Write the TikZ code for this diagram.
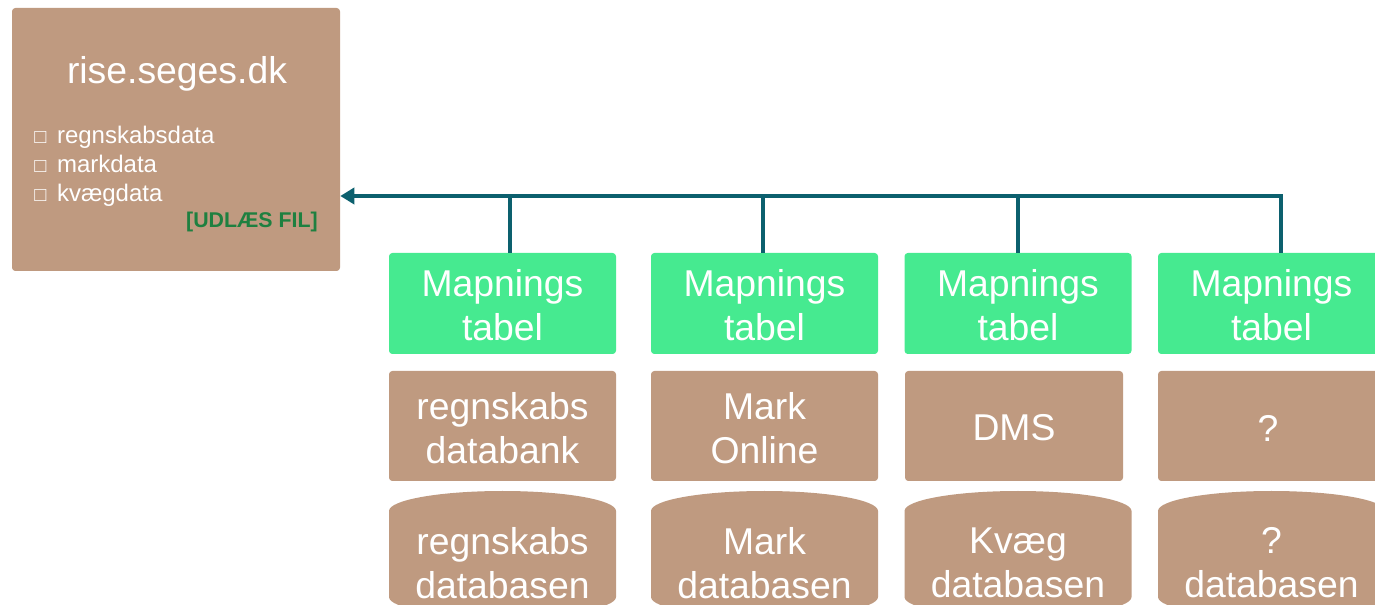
\documentclass[tikz,border=0pt]{standalone}
\usepackage{fontspec}
\setmainfont{Liberation Sans}
\usetikzlibrary{arrows.meta}
\definecolor{tan}{RGB}{191,154,128}
\definecolor{mapgreen}{RGB}{70,234,144}
\definecolor{linkteal}{RGB}{12,96,110}
\definecolor{filegreen}{RGB}{30,128,64}
\newcommand{\tickbox}{{\fontsize{15}{15}\selectfont□}}
\tikzset{
  panel/.style={fill=tan, rounded corners=2.5pt, inner sep=0pt, text=white,
    align=center, font=\fontsize{28}{33}\selectfont},
  mapbox/.style={panel, fill=mapgreen, minimum width=170.25pt, minimum height=75.75pt},
  sysbox/.style={panel, minimum height=82.5pt},
  boxtext/.style={text=white, align=center, inner sep=0pt, font=\fontsize{28}{33}\selectfont},
  dbshape/.style={fill=tan},
  link/.style={draw=linkteal, line width=3pt},
}
\begin{document}
\begin{tikzpicture}[x=0.75pt, y=-0.75pt]
\useasboundingbox (0,0) rectangle (1375,605);
\clip (0,0) rectangle (1375,605);

% portal box
\node[panel, minimum width=246pt, minimum height=197.25pt] (rise) at (176,139.5) {};
\node[boxtext] (title) at (177,73.5) {rise.seges.dk};
\node[text=white, inner sep=0pt, anchor=west, align=left, font=\fontsize{18}{21.75}\selectfont] (items) at (34,166)
  {\tickbox\, regnskabsdata\\\tickbox\, markdata\\\tickbox\, kvægdata};
\node[text=filegreen, inner sep=0pt, anchor=east, font=\fontsize{16}{18}\bfseries\selectfont] (export) at (318,222) {[UDLÆS FIL]};

% mapping tables
\node[mapbox] (m1) at (502.5,303.5) {};
\node[mapbox] (m2) at (764.5,303.5) {};
\node[mapbox] (m3) at (1018,303.5) {};
\node[mapbox] (m4) at (1271.5,303.5) {};
\foreach \i/\cx in {1/502.5,2/764.5,3/1018,4/1271.5}
  \node[boxtext] (mt\i) at (\cx,305.5) {Mapnings\\tabel};

% source systems
\node[sysbox, minimum width=170.25pt] (s1) at (502.5,426) {};
\node[sysbox, minimum width=170.25pt] (s2) at (764.5,426) {};
\node[sysbox, minimum width=163.5pt] (s3) at (1014,426) {};
\node[sysbox, minimum width=170.25pt] (s4) at (1271.5,426) {};
\node[boxtext] (st1) at (502.5,428) {regnskabs\\databank};
\node[boxtext] (st2) at (764.5,428) {Mark\\Online};
\node[boxtext] (st3) at (1014,428) {DMS};
\node[boxtext] (st4) at (1268,428) {?};

% databases
\foreach \cx in {502.5,764.5,1018,1271.5}{
  \fill[dbshape] (\cx-113.5,511) arc[start angle=180, end angle=0, x radius=85.125pt, y radius=15pt]
    -- (\cx+113.5,597) arc[start angle=0, end angle=-180, x radius=85.125pt, y radius=15pt] -- cycle;
}
\node[boxtext] (d1) at (502.5,563) {regnskabs\\databasen};
\node[boxtext] (d2) at (764.5,563) {Mark\\databasen};
\node[boxtext] (d3) at (1018,563) {Kvæg\\databasen};
\node[boxtext] (d4) at (1271.5,563) {?\\databasen};

% export links
\coordinate (j1) at (510,196);
\coordinate (j2) at (763,196);
\coordinate (j3) at (1018,196);
\coordinate (j4) at (1281,196);
\draw[link, -{Triangle[length=10.5pt, width=12pt]}] (j4 |- m4.north) -- (j4) -- (j4 -| rise.east);
\draw[link] (j1 |- m1.north) -- (j1);
\draw[link] (j2 |- m2.north) -- (j2);
\draw[link] (j3 |- m3.north) -- (j3);
\end{tikzpicture}
\end{document}
